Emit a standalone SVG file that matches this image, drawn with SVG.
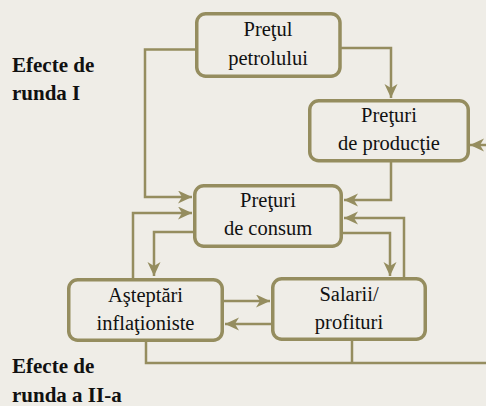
<svg xmlns="http://www.w3.org/2000/svg" width="486" height="406" viewBox="0 0 486 406">
  <defs>
    <marker id="ah" markerUnits="userSpaceOnUse" markerWidth="16" markerHeight="14" refX="14" refY="6.5" orient="auto" viewBox="0 0 16 14">
      <path d="M0,0 L14,6.5 L0,13 L4,6.5 z" fill="#958D5F"/>
    </marker>
    <style>
      .box { fill: none; stroke: #958D5F; stroke-width: 3.5; }
      .t { font-family: "Liberation Serif", "Times New Roman", serif; font-size: 20.5px; fill: #111; text-anchor: middle; }
      .lbl { font-family: "Liberation Serif", "Times New Roman", serif; font-size: 21px; font-weight: bold; fill: #111; }
      .c { fill: none; stroke: #958D5F; stroke-width: 2.5; }
      .a { marker-end: url(#ah); }
    </style>
  </defs>
  <rect width="486" height="406" fill="#EFEDE7"/>

  <g id="connectors">
    <path class="c a" d="M195,49.5 H145 V197 H192"/>
    <path class="c a" d="M341,48 H391 V98"/>
    <path class="c a" d="M391,161 V200 H344"/>
    <path class="c a" d="M486,145 H470"/>
    <path class="c a" d="M193,232 H154 V276"/>
    <path class="c a" d="M133,278 V213 H192"/>
    <path class="c a" d="M343,233 H390 V276"/>
    <path class="c a" d="M404,277 V218 H344"/>
    <path class="c a" d="M224,301 H270"/>
    <path class="c a" d="M271,324 H225"/>
    <path class="c" d="M146,342 V363 H486"/>
    <path class="c" d="M352,340 V363"/>
  </g>

  <g id="node-pretul-petrolului">
    <rect class="box" x="196.75" y="13.75" width="143.25" height="62.5" rx="9"/>
    <text class="t" x="268" y="36">Preţul</text>
    <text class="t" x="268" y="65">petrolului</text>
  </g>

  <g id="node-preturi-productie">
    <rect class="box" x="309.75" y="100.75" width="158.5" height="60" rx="9"/>
    <text class="t" x="389" y="122">Preţuri</text>
    <text class="t" x="389" y="150">de producţie</text>
  </g>

  <g id="node-preturi-consum">
    <rect class="box" x="194.75" y="185.75" width="146.5" height="60.5" rx="9"/>
    <text class="t" x="268" y="207">Preţuri</text>
    <text class="t" x="268" y="235">de consum</text>
  </g>

  <g id="node-asteptari">
    <rect class="box" x="68.75" y="279.75" width="153.5" height="60.5" rx="9"/>
    <text class="t" x="145.5" y="302">Aşteptări</text>
    <text class="t" x="145.5" y="330">inflaţioniste</text>
  </g>

  <g id="node-salarii">
    <rect class="box" x="272.75" y="278.75" width="152.5" height="60.5" rx="9"/>
    <text class="t" x="349" y="301">Salarii/</text>
    <text class="t" x="349" y="329">profituri</text>
  </g>

  <g id="label-runda-1">
    <text class="lbl" x="12" y="71.5">Efecte de</text>
    <text class="lbl" x="12" y="100">runda I</text>
  </g>

  <g id="label-runda-2">
    <text class="lbl" x="12" y="373">Efecte de</text>
    <text class="lbl" x="12" y="402">runda a II-a</text>
  </g>
</svg>
